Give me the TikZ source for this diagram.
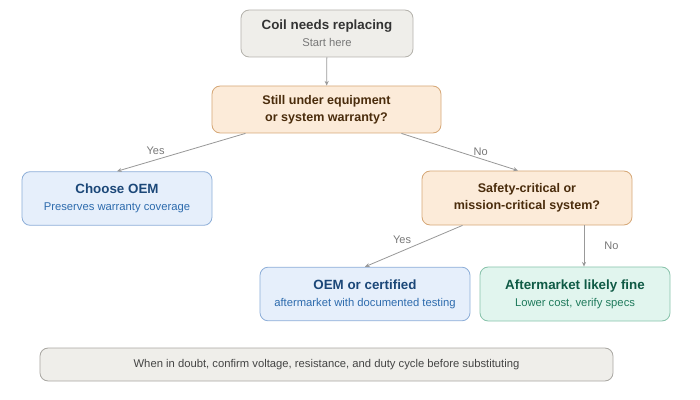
\documentclass[tikz,border=0pt]{standalone}
\usepackage{fontspec}
\setmainfont{Liberation Sans}
\usepackage{tikz}
\usetikzlibrary{arrows.meta,positioning}

\definecolor{startfill}{HTML}{EFEEEA}
\definecolor{startdraw}{HTML}{B4B2AC}
\definecolor{starthead}{HTML}{333333}
\definecolor{startsub}{HTML}{777777}
\definecolor{qfill}{HTML}{FCEBD9}
\definecolor{qdraw}{HTML}{D6A877}
\definecolor{qtext}{HTML}{4A2C0C}
\definecolor{oemfill}{HTML}{E6EFFB}
\definecolor{oemdraw}{HTML}{8DAED8}
\definecolor{oemhead}{HTML}{1B4778}
\definecolor{oemsub}{HTML}{2D6BAD}
\definecolor{aftfill}{HTML}{E1F5EE}
\definecolor{aftdraw}{HTML}{88C3AB}
\definecolor{afthead}{HTML}{0F5A45}
\definecolor{aftsub}{HTML}{1F7A5C}
\definecolor{notedraw}{HTML}{A9A7A2}
\definecolor{notetext}{HTML}{444444}
\definecolor{edgegray}{HTML}{999999}
\definecolor{lblgray}{HTML}{777777}

\newcommand{\boxhead}[1]{{\fontsize{11.4}{14.5}\selectfont\bfseries #1}}

\begin{document}
\begin{tikzpicture}[
    x=0.03cm, y=-0.03cm,
    box/.style={draw, rounded corners=7pt, line width=0.7pt, align=center, inner sep=2pt, font=\fontsize{9.6}{14.5}\selectfont},
    startbox/.style={box, fill=startfill, draw=startdraw, text=startsub, minimum width=5.16cm, minimum height=1.41cm},
    askbox/.style={box, fill=qfill, draw=qdraw, text=qtext, minimum height=1.41cm, font=\fontsize{10.7}{14.5}\selectfont\bfseries},
    oembox/.style={box, fill=oemfill, draw=oemdraw, text=oemsub, minimum height=1.61cm},
    aftbox/.style={box, fill=aftfill, draw=aftdraw, text=aftsub, minimum height=1.62cm},
    notebox/.style={box, fill=startfill, draw=notedraw, text=notetext, minimum width=17.19cm, minimum height=0.99cm},
    link/.style={draw=edgegray, line width=0.7pt, -{Stealth[length=4pt, width=3.5pt]}},
    lbl/.style={text=lblgray, font=\fontsize{9.4}{11}\selectfont, inner sep=1pt}
]
\useasboundingbox (0,0) rectangle (700,400);

\node[startbox] (start) at (327,33.5) {{\color{starthead}\boxhead{Coil needs replacing}}\\Start here};
\node[askbox, minimum width=6.87cm] (warranty) at (326.5,109.5) {Still under equipment\\or system warranty?};
\node[oembox, minimum width=5.7cm] (oem) at (117,198.5) {{\color{oemhead}\boxhead{Choose OEM}}\\Preserves warranty coverage};
\node[askbox, minimum width=6.3cm, minimum height=1.62cm] (safety) at (527,198) {Safety-critical or\\mission-critical system?};
\node[oembox, minimum width=6.3cm] (certified) at (365,294) {{\color{oemhead}\boxhead{OEM or certified}}\\aftermarket with documented testing};
\node[aftbox, minimum width=5.7cm] (aftermarket) at (575,294) {{\color{afthead}\boxhead{Aftermarket likely fine}}\\Lower cost, verify specs};
\node[notebox] (note) at (326.5,364.5) {When in doubt, confirm voltage, resistance, and duty cycle before substituting};

\draw[link] (start) -- (warranty);
\draw[link] (warranty) -- (oem.north) node[lbl, pos=0.7, above=3pt] {Yes};
\draw[link] (warranty) -- ([xshift=-9*0.03cm]safety.north) node[lbl, pos=0.68, above=1.5pt] {No};
\draw[link] (safety) -- (certified.north) node[lbl, pos=0.62, above=5pt] {Yes};
\draw[link] ([xshift=9*0.03cm]aftermarket.north |- safety.south) -- ([xshift=9*0.03cm]aftermarket.north) node[lbl, midway, right=16pt] {No};
\end{tikzpicture}
\end{document}
